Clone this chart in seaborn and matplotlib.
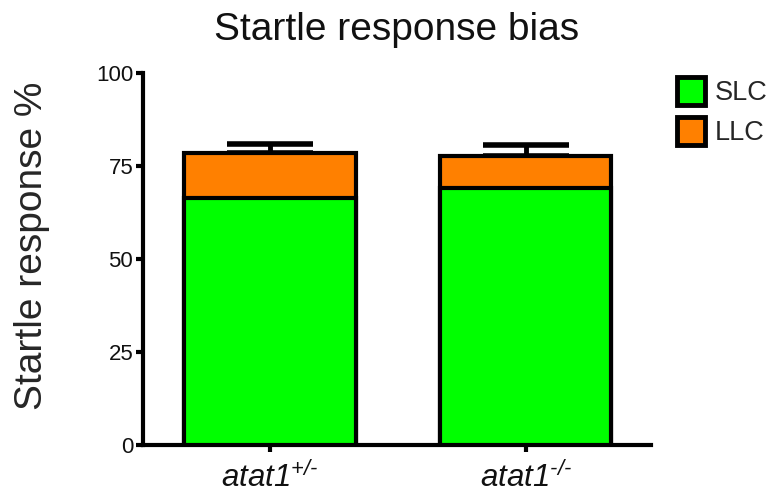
import numpy as np
import pandas as pd
import matplotlib
matplotlib.use("Agg")
import matplotlib.pyplot as plt
import matplotlib.patches as mpatches
import seaborn as sns

# values
genotypes = ["$atat1^{+/\u2010}$", "$atat1^{\u2010/\u2010}$"]
slc = [66.3, 69.0]
llc = [12.3, 8.7]
err_up = [2.3, 2.9]

green = "#00ff00"
orange = "#ff8000"

sns.set_style("ticks")
plt.rcParams["font.family"] = ["Liberation Sans", "DejaVu Sans"]
plt.rcParams["mathtext.fontset"] = "custom"
plt.rcParams["mathtext.rm"] = "Liberation Sans:italic"
plt.rcParams["mathtext.it"] = "Liberation Sans:italic"
plt.rcParams["mathtext.bf"] = "Liberation Sans:bold"

df = pd.DataFrame({"genotype": genotypes, "SLC": slc, "LLC": llc})
df["total"] = df["SLC"] + df["LLC"]

fig = plt.figure(figsize=(7.73, 5.04), dpi=100)
ax = fig.add_axes([143 / 773, 1 - 445 / 504, (651 - 143) / 773, (445 - 73) / 504])

# error bars (upper only) on top of the stacks
eb = ax.errorbar(np.arange(len(genotypes)), df["total"], yerr=[[0] * len(err_up), err_up],
                 fmt="none", ecolor="black", elinewidth=3.5, capsize=31, capthick=4, zorder=1)
for cap in eb[1]:
    cap.set_solid_capstyle("round")
for line in eb[2]:
    line.set_capstyle("round")

sns.barplot(data=df, x="genotype", y="total", color=orange, saturation=1,
            edgecolor="black", linewidth=3, width=0.67, ax=ax, zorder=2)
sns.barplot(data=df, x="genotype", y="SLC", color=green, saturation=1,
            edgecolor="black", linewidth=3, width=0.67, ax=ax, zorder=3)

ax.set_xlim(-0.496, 1.49)
ax.set_ylim(0, 100)
ax.set_yticks([0, 25, 50, 75, 100])
ax.set_xlabel("")
ax.set_ylabel("Startle response %", fontsize=28)
ax.yaxis.set_label_coords(-0.183, 0.535)
ax.set_title("Startle response bias", fontsize=28, pad=24, color="#111111")

sns.despine(ax=ax)
for s in ["left", "bottom"]:
    ax.spines[s].set_linewidth(3)
    ax.spines[s].set_color("black")
ax.tick_params(axis="y", labelsize=16, width=3, length=5, pad=2, colors="black")
ax.tick_params(axis="x", labelsize=22.5, width=3, length=5, pad=7, colors="black")
for lab in ax.get_xticklabels() + ax.get_yticklabels():
    lab.set_color("#111111")

handles = [mpatches.Patch(facecolor=green, edgecolor="black", linewidth=3.5, label="SLC"),
           mpatches.Patch(facecolor=orange, edgecolor="black", linewidth=3.5, label="LLC")]
fig.legend(handles=handles, loc="upper left", bbox_to_anchor=(677 / 773, 1 - 77 / 504),
           frameon=False, fontsize=19.5, handlelength=1.05, handleheight=1.2,
           handletextpad=0.35, labelspacing=0.4, borderpad=0, borderaxespad=0)

fig.savefig("out.png", dpi=100)
